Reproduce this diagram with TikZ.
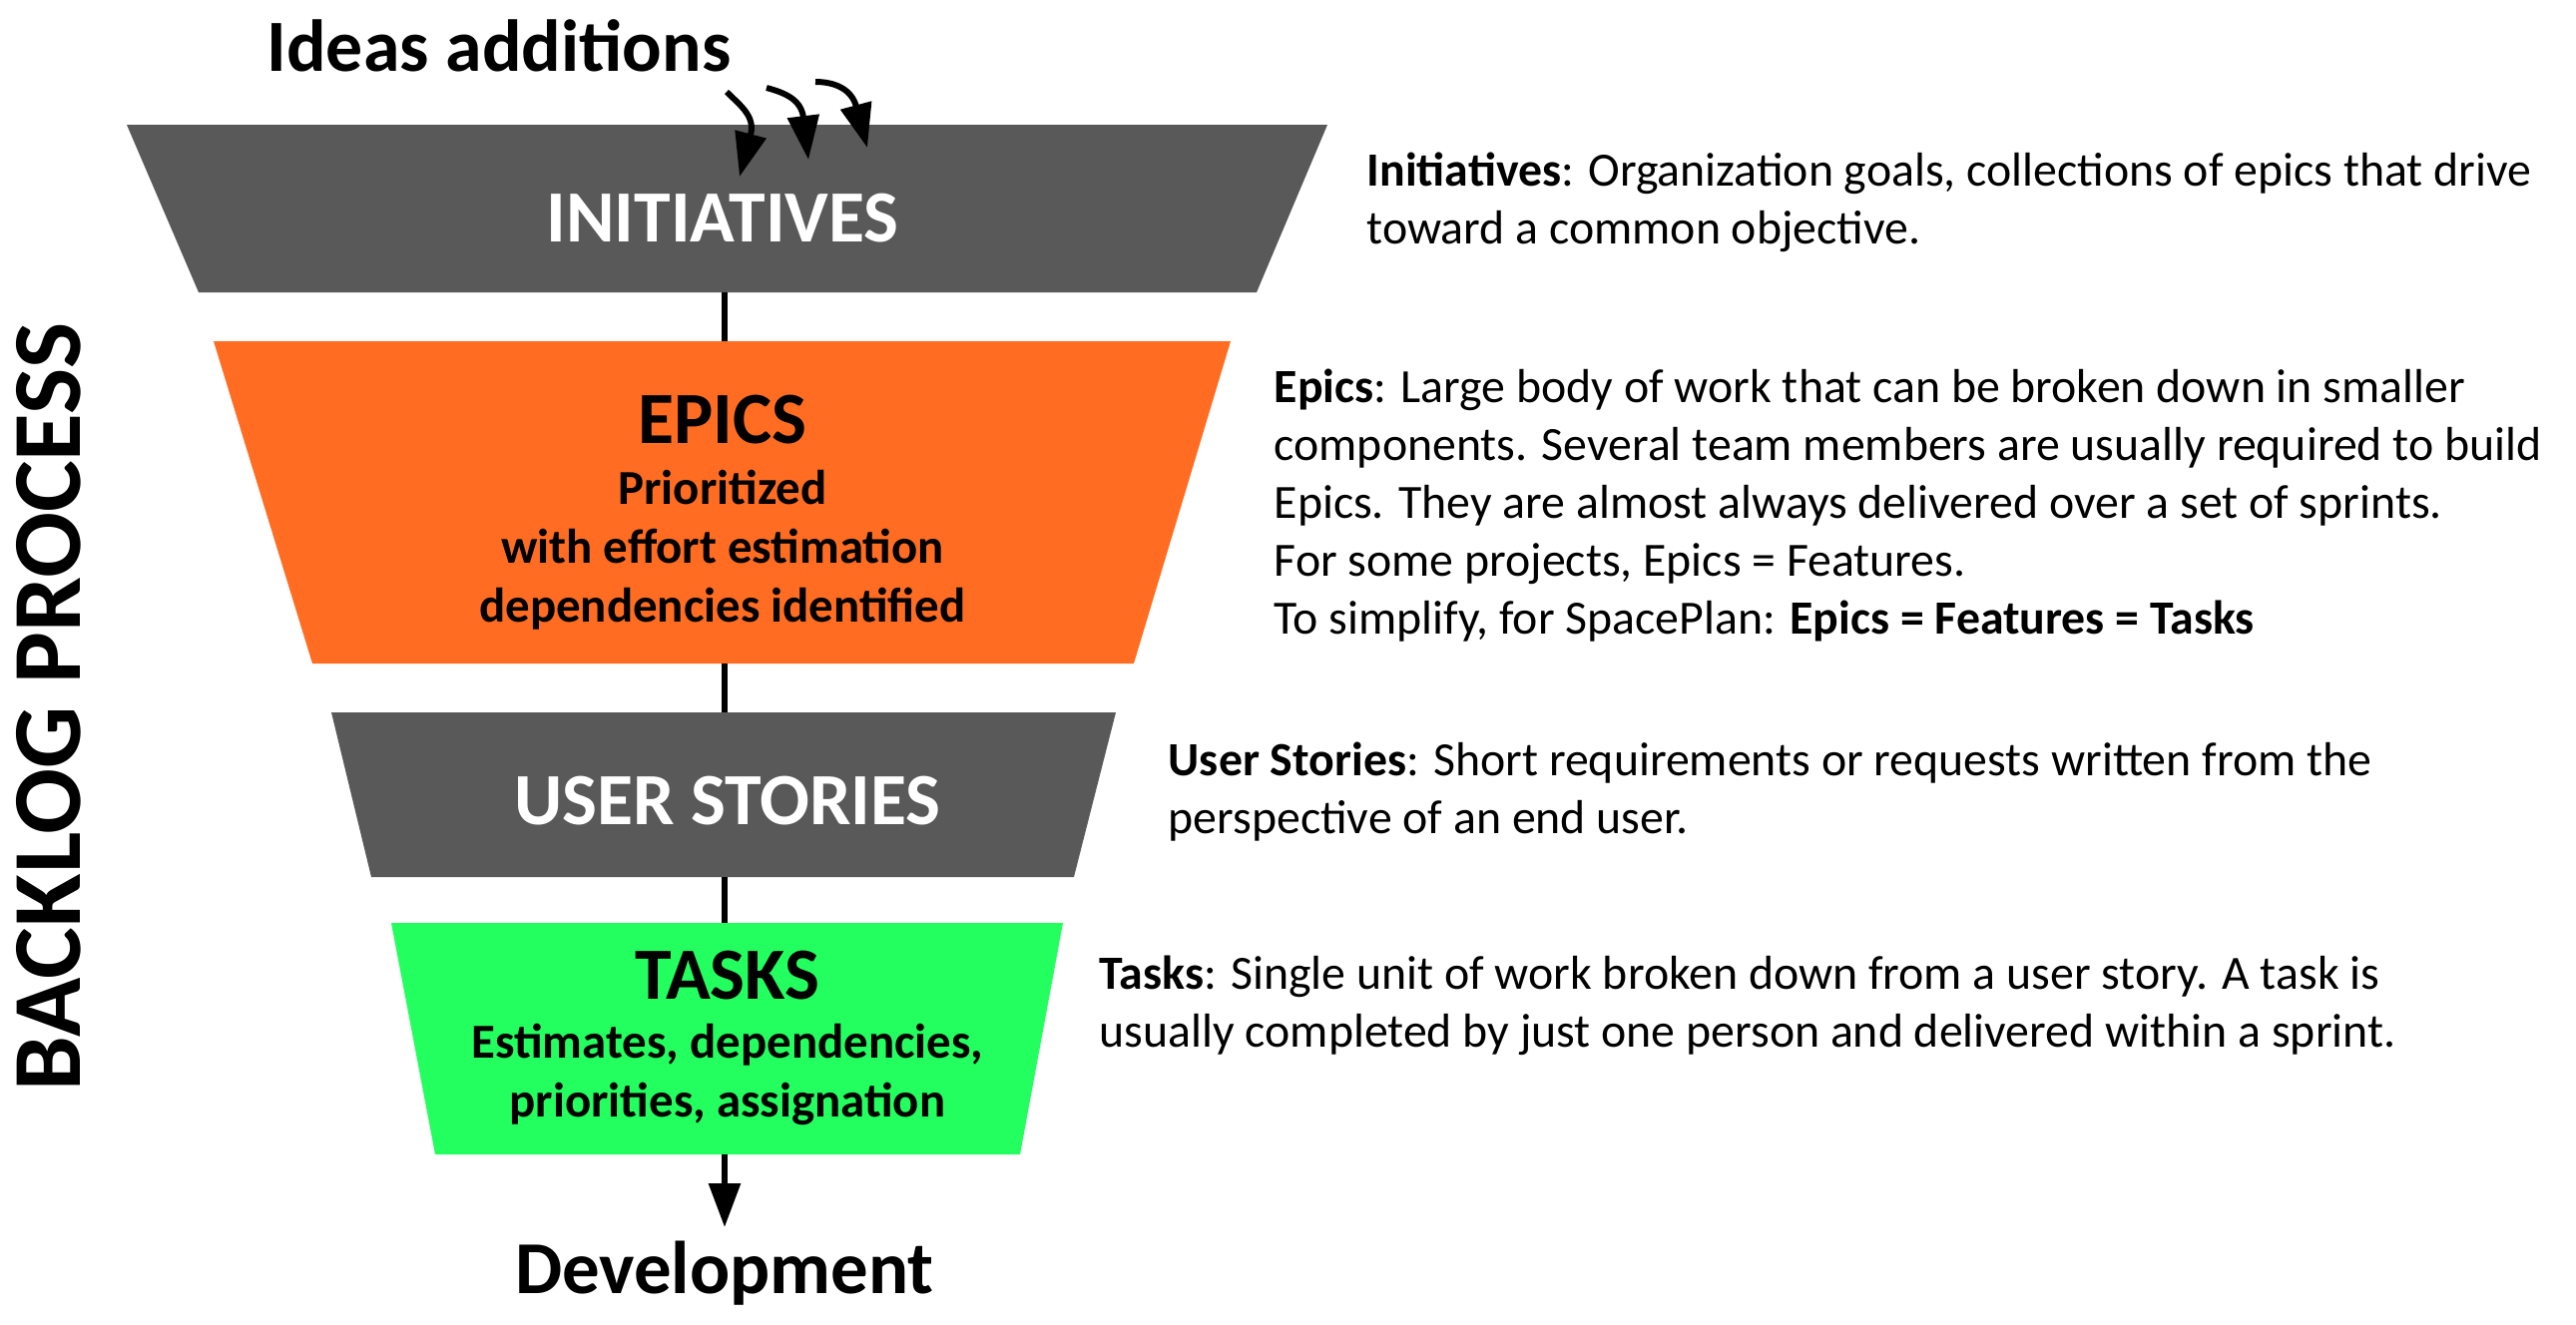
\documentclass[tikz,border=0pt]{standalone}
\usepackage{fontspec}
\setmainfont{Carlito}
\usetikzlibrary{arrows.meta,positioning,calc}
\definecolor{layergray}{HTML}{595959}
\definecolor{layerorange}{HTML}{FF6C22}
\definecolor{layergreen}{HTML}{23FF5E}

\begin{document}
\begin{tikzpicture}[
    title/.style={font=\fontsize{21}{25}\selectfont\bfseries},
    sub/.style={font=\fontsize{13.9}{16.7}\selectfont\bfseries, align=center},
    desc/.style={font=\fontsize{13.6}{16.5}\selectfont, align=left, anchor=north west, inner sep=0pt},
    link/.style={line width=1.7pt},
    flow/.style={line width=1.7pt, -{Triangle[length=4.4mm,width=3.1mm]}},
  ]
  \useasboundingbox (0,0) rectangle (25.81,-13.27);

  \fill[layergray] (1.27,-1.25) -- (13.30,-1.25) -- (12.59,-2.93) -- (1.99,-2.93) -- cycle;
  \fill[layerorange] (2.14,-3.42) -- (12.33,-3.42) -- (11.36,-6.65) -- (3.13,-6.65) -- cycle;
  \fill[layergray] (3.32,-7.14) -- (11.18,-7.14) -- (10.76,-8.79) -- (3.72,-8.79) -- cycle;
  \fill[layergreen] (3.92,-9.25) -- (10.65,-9.25) -- (10.22,-11.57) -- (4.36,-11.57) -- cycle;

  \coordinate (ini-b) at (7.26,-2.93);
  \coordinate (epi-t) at (7.26,-3.42);
  \coordinate (epi-b) at (7.26,-6.65);
  \coordinate (us-t) at (7.26,-7.14);
  \coordinate (us-b) at (7.26,-8.79);
  \coordinate (tsk-t) at (7.26,-9.25);
  \coordinate (tsk-b) at (7.26,-11.57);
  \coordinate (out) at (7.26,-12.30);

  \coordinate (add1) at (7.28,-0.92);
  \coordinate (add2) at (7.68,-0.88);
  \coordinate (add3) at (8.17,-0.82);
  \coordinate (h1) at (7.52,-1.35);
  \coordinate (h2) at (8.05,-1.18);
  \coordinate (h3) at (8.58,-1.07);
  \coordinate (in1) at (7.41,-1.77);
  \coordinate (in2) at (8.10,-1.60);
  \coordinate (in3) at (8.69,-1.48);

  \node[title] (ideas) at (5.00,-0.46) {Ideas additions};
  \node[title, white] (ini) at (7.24,-2.19) {INITIATIVES};
  \node[title] (epi) at (7.24,-4.21) {EPICS};
  \node[sub] (epi-sub) at (7.24,-5.51) {Prioritized\\with effort estimation\\dependencies identified};
  \node[title, white] (us) at (7.29,-8.03) {USER STORIES};
  \node[title] (tsk) at (7.29,-9.78) {TASKS};
  \node[sub] (tsk-sub) at (7.29,-10.77) {Estimates, dependencies,\\priorities, assignation};
  \node[title, font=\fontsize{21.3}{25}\selectfont\bfseries] (dev) at (7.26,-12.76) {Development};
  \node[title, rotate=90, font=\fontsize{27.8}{32}\selectfont\bfseries] (backlog) at (0.49,-7.08) {BACKLOG PROCESS};

  \node[desc] (ini-txt) at (13.69,-1.52) {\textbf{Initiatives}: Organization goals, collections of epics that drive\\toward a common objective.};
  \node[desc] (epi-txt) at (12.76,-3.69) {\textbf{Epics}: Large body of work that can be broken down in smaller\\components. Several team members are usually required to build\\Epics. They are almost always delivered over a set of sprints.\\For some projects, Epics = Features.\\To simplify, for SpacePlan: \textbf{Epics = Features = Tasks}};
  \node[desc] (us-txt) at (11.70,-7.43) {\textbf{User Stories}: Short requirements or requests written from the\\perspective of an end user.};
  \node[desc] (tsk-txt) at (11.01,-9.57) {\textbf{Tasks}: Single unit of work broken down from a user story. A task is\\usually completed by just one person and delivered within a sprint.};

  \draw[link] (ini-b) -- (epi-t);
  \draw[link] (epi-b) -- (us-t);
  \draw[link] (us-b) -- (tsk-t);
  \draw[flow] (tsk-b) -- (out);

  \draw[flow] (add1) to[out=-45, in=75] (h1) -- (in1);
  \draw[flow] (add2) to[out=-15, in=97] (h2) -- (in2);
  \draw[flow] (add3) to[out=0, in=105] (h3) -- (in3);
\end{tikzpicture}
\end{document}
